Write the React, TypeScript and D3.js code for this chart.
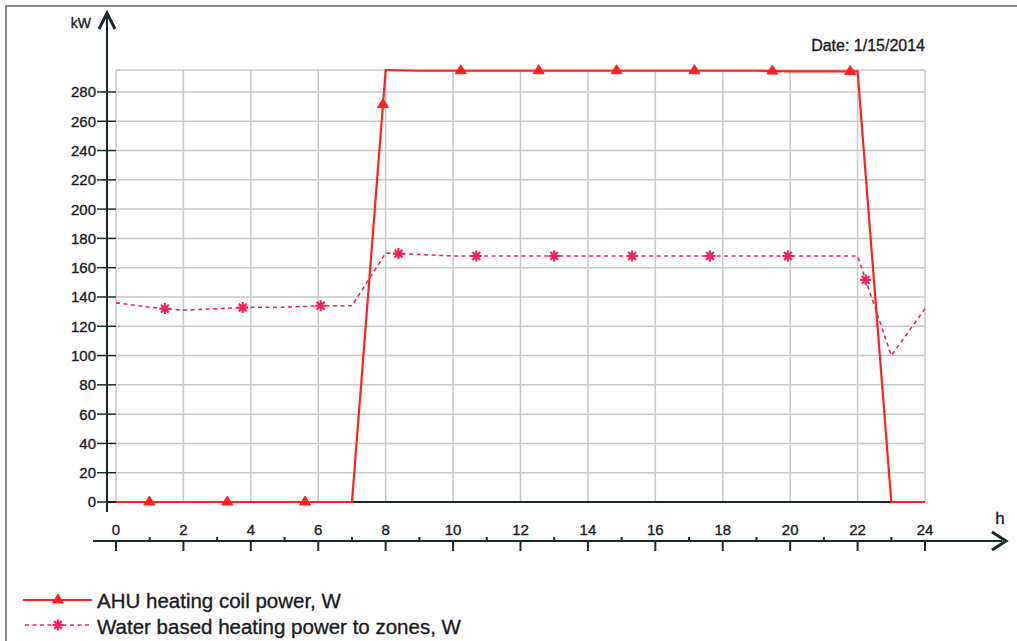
import React from "react";
import * as d3 from "d3";

const hours = d3.range(0, 25);
const ahuPower = [0, 0, 0, 0, 0, 0, 0, 0, 295, 294.5, 294.5, 294.5, 294.5, 294.5, 294.5, 294.5, 294.5, 294.5, 294.5, 294.5, 294, 294, 294, 0, 0];
const waterPower = [136, 133, 131, 132, 133, 133, 134, 134, 170, 169, 168, 168, 168, 168, 168, 168, 168, 168, 168, 168, 168, 168, 168, 100, 132];
const xTicks = d3.range(0, 25, 2);
const xMinor = d3.range(1, 24, 2);
const yTicks = d3.range(0, 281, 20);
const yMax = 295;
const markerStep = 2.31;
const ahuMarkerStart = 0.99;
const waterMarkerStart = 1.45;
const markerCount = 10;
const legendLabels = ["AHU heating coil power, W", "Water based heating power to zones, W"];
const dateLabel = "Date: 1/15/2014";

const AHU_COLOR = "#ff2020";
const WATER_COLOR = "#f0245a";
const GRID = "#c4caca";
const FONT = "Arial, 'Liberation Sans', sans-serif";
const TXT = "#1a1a22";

function interp(vals: number[], t: number) {
  const i = Math.min(Math.floor(t), vals.length - 2);
  const f = t - i;
  return vals[i] * (1 - f) + vals[i + 1] * f;
}

const Triangle = ({ x, y, c }: { x: number; y: number; c: string }) => (
  <path d={`M${x - 5.5},${y + 3} L${x},${y - 6} L${x + 5.5},${y + 3} Z`} fill={c} stroke={c} strokeWidth={1} />
);

const Star = ({ x, y, c }: { x: number; y: number; c: string }) => {
  const r = 5.5;
  const d = d3.range(4).map((k) => {
    const a = (k * Math.PI) / 4;
    return `M${x - r * Math.cos(a)},${y - r * Math.sin(a)} L${x + r * Math.cos(a)},${y + r * Math.sin(a)}`;
  }).join(" ");
  return <path d={d} stroke={c} strokeWidth={2.2} />;
};

export default function App() {
  const x = d3.scaleLinear().domain([0, 24]).range([116, 925]);
  const y = d3.scaleLinear().domain([0, yMax]).range([502, 70]);
  const line = d3.line<number>().x((_, i) => x(hours[i])).y((d) => y(d));
  const ahuMarkers = d3.range(markerCount).map((k) => ahuMarkerStart + k * markerStep);
  const waterMarkers = d3.range(markerCount).map((k) => waterMarkerStart + k * markerStep);
  const axisY = 541;
  const txtStyle = { stroke: TXT, strokeWidth: 0.35 } as React.CSSProperties;

  return (
    <div style={{ position: "absolute", left: 0, top: 0 }}>
      <svg width={1017} height={641} style={{ display: "block", fontFamily: FONT }}>
        <rect x={0} y={0} width={1017} height={641} fill="#fff" />
        <rect x={6} y={6} width={1030} height={660} fill="none" stroke="#8a8a8a" strokeWidth={2} />

        {/* grid */}
        {yTicks.map((t) => (
          <line key={"hy" + t} x1={x(0)} x2={x(24)} y1={y(t)} y2={y(t)} stroke={GRID} strokeWidth={1.5} />
        ))}
        <line x1={x(0)} x2={x(24)} y1={y(yMax)} y2={y(yMax)} stroke={GRID} strokeWidth={1.5} />
        {xTicks.map((t) => (
          <line key={"vx" + t} x1={x(t)} x2={x(t)} y1={y(yMax)} y2={y(0)} stroke={GRID} strokeWidth={1.5} />
        ))}
        <line x1={107} x2={x(24)} y1={y(0)} y2={y(0)} stroke="#1a2a2a" strokeWidth={2} />

        {/* y axis */}
        <line x1={107} x2={107} y1={14} y2={512} stroke="#1a2a2a" strokeWidth={2} />
        <path d="M99,29 L107,13 L115,29" fill="none" stroke="#1a2a2a" strokeWidth={3} />
        {yTicks.map((t) => (
          <g key={"yt" + t}>
            <line x1={97} x2={116} y1={y(t)} y2={y(t)} stroke="#1a2a2a" strokeWidth={1.5} />
            <text x={96} y={y(t)} dy="0.36em" textAnchor="end" fontSize={15} fill={TXT} style={txtStyle}>{t}</text>
          </g>
        ))}
        <text x={91} y={28} textAnchor="end" fontSize={14} fill={TXT} style={txtStyle}>kW</text>

        {/* x axis */}
        <line x1={93} x2={1002} y1={axisY} y2={axisY} stroke="#1a2a2a" strokeWidth={2} />
        <path d={`M992,${axisY - 9} L1006,${axisY} L992,${axisY + 9}`} fill="none" stroke="#1a2a2a" strokeWidth={3} />
        {xTicks.map((t) => (
          <g key={"xt" + t}>
            <line x1={x(t)} x2={x(t)} y1={axisY} y2={axisY + 10} stroke="#1a2a2a" strokeWidth={2} />
            <text x={x(t)} y={axisY - 6} textAnchor="middle" fontSize={15} fill={TXT} style={txtStyle}>{t}</text>
          </g>
        ))}
        {xMinor.map((t) => (
          <line key={"xm" + t} x1={x(t)} x2={x(t)} y1={axisY - 4} y2={axisY} stroke="#1a2a2a" strokeWidth={2} />
        ))}
        <text x={1000} y={524} textAnchor="middle" fontSize={17} fill={TXT} style={txtStyle}>h</text>

        <text x={925} y={51} textAnchor="end" fontSize={16} fill={TXT} style={txtStyle}>{dateLabel}</text>

        {/* series */}
        <path d={line(waterPower) || ""} fill="none" stroke={WATER_COLOR} strokeWidth={1.6} strokeDasharray="4,3.5" />
        <path d={line(ahuPower) || ""} fill="none" stroke={AHU_COLOR} strokeWidth={2.2} />
        {ahuMarkers.map((t, i) => (
          <Triangle key={"am" + i} x={x(t)} y={y(interp(ahuPower, t))} c={AHU_COLOR} />
        ))}
        {waterMarkers.map((t, i) => (
          <Star key={"wm" + i} x={x(t)} y={y(interp(waterPower, t))} c={WATER_COLOR} />
        ))}

        {/* legend */}
        <line x1={23} x2={92} y1={600} y2={600} stroke={AHU_COLOR} strokeWidth={2.2} />
        <Triangle x={58} y={600} c={AHU_COLOR} />
        <text x={97} y={608} fontSize={20.5} fill={TXT} style={txtStyle}>{legendLabels[0]}</text>
        <line x1={25} x2={90} y1={625} y2={625} stroke={WATER_COLOR} strokeWidth={1.6} strokeDasharray="4,3.5" />
        <Star x={58} y={625} c={WATER_COLOR} />
        <text x={97} y={634} fontSize={20.5} fill={TXT} style={txtStyle}>{legendLabels[1]}</text>
      </svg>
    </div>
  );
}
